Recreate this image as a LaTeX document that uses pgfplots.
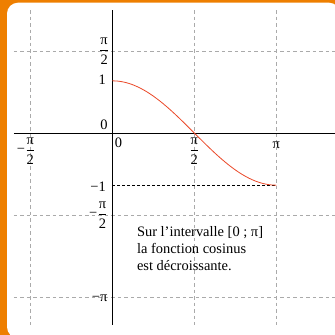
\documentclass[border=0pt]{standalone}
\usepackage{pgfplots}
\pgfplotsset{compat=1.18}
\usepackage{fontspec}
\setmainfont{Liberation Serif}

\definecolor{frameorange}{RGB}{238,127,0}
\definecolor{curvered}{RGB}{235,72,40}
\definecolor{gridgray}{RGB}{170,170,170}

\newcommand\lbl{\fontsize{14.5}{17}\selectfont}
\newcommand\fr[2]{$\displaystyle\frac{\mbox{#1}}{\mbox{#2}}$}

\tikzset{lab/.style={font=\lbl, inner sep=0pt}}

\begin{document}
\begin{tikzpicture}
\useasboundingbox (0,0) rectangle (335bp,335bp);
% card background
\begin{scope}
  \clip (0,0) rectangle (335bp,335bp);
  \fill[frameorange] (0,0) rectangle (335bp,335bp);
  \fill[white, rounded corners=11bp] (7bp,-3bp) rectangle (340bp,332.3bp);
\end{scope}
\begin{axis}[
  at={(0,0)}, anchor=south west,
  scale only axis, width=335bp, height=335bp,
  xmin=-2.151, xmax=4.266, ymin=-3.870, ymax=2.548,
  hide axis, clip=false,
]
% dashed grid
\begin{scope}[gridgray, line width=0.6bp, dash pattern=on 3.5bp off 3bp]
  \draw (-1.5708,2.356) -- (-1.5708,-3.678);
  \draw (1.5708,2.356) -- (1.5708,-3.678);
  \draw (3.1416,2.356) -- (3.1416,-3.678);
  \draw (-1.883,1.5708) -- (4.266,1.5708);
  \draw (-1.883,-1.5708) -- (4.266,-1.5708);
  \draw (-1.883,-3.1416) -- (4.266,-3.1416);
\end{scope}
% axes
\draw[black, line width=0.9bp] (-1.883,0) -- (4.266,0);
\draw[black, line width=0.9bp] (0,2.356) -- (0,-3.678);
% level of the minimum
\draw[black, line width=0.7bp, dash pattern=on 3bp off 2bp] (0,-1) -- (3.1416,-1);
% cosine on [0 ; pi]
\addplot[curvered, line width=0.8bp, smooth] coordinates {
  (0,1) (0.1309,0.9914) (0.2618,0.9659) (0.3927,0.9239) (0.5236,0.8660)
  (0.6545,0.7934) (0.7854,0.7071) (0.9163,0.6088) (1.0472,0.5)
  (1.1781,0.3827) (1.3090,0.2588) (1.4399,0.1305) (1.5708,0)
  (1.7017,-0.1305) (1.8326,-0.2588) (1.9635,-0.3827) (2.0944,-0.5)
  (2.2253,-0.6088) (2.3562,-0.7071) (2.4871,-0.7934) (2.6180,-0.8660)
  (2.7489,-0.9239) (2.8798,-0.9659) (3.0107,-0.9914) (3.1416,-1)
};
% y labels
\node[lab, anchor=east] at (-0.06,1.5708) {\fr{π}{2}};
\node[lab, anchor=east] at (-0.12,1.03) {1};
\node[lab] at (-0.157,0.163) {0};
\node[lab, anchor=east] at (-0.12,-1.02) {−1};
\node[lab, anchor=east] (ymp) at (-0.09,-1.5708) {\fr{π}{2}};
\node[lab, anchor=east] at (ymp.west) {−};
\node[lab, anchor=east] at (-0.09,-3.16) {−π};
% x labels
\node[lab] at (0.119,-0.19) {0};
\node[lab, anchor=north] (xmp) at (-1.5708,-0.09) {\fr{π}{2}};
\node[lab, anchor=east] at (xmp.west) {−};
\node[lab, anchor=north] at (1.5708,-0.09) {\fr{π}{2}};
\node[lab, anchor=north] at (3.1416,-0.16) {π};
% note
\node[lab, anchor=north west, align=left] at (0.47,-1.78)
  {Sur l’intervalle [0 ; π]\\la fonction cosinus\\est décroissante.};
\end{axis}
\end{tikzpicture}
\end{document}
